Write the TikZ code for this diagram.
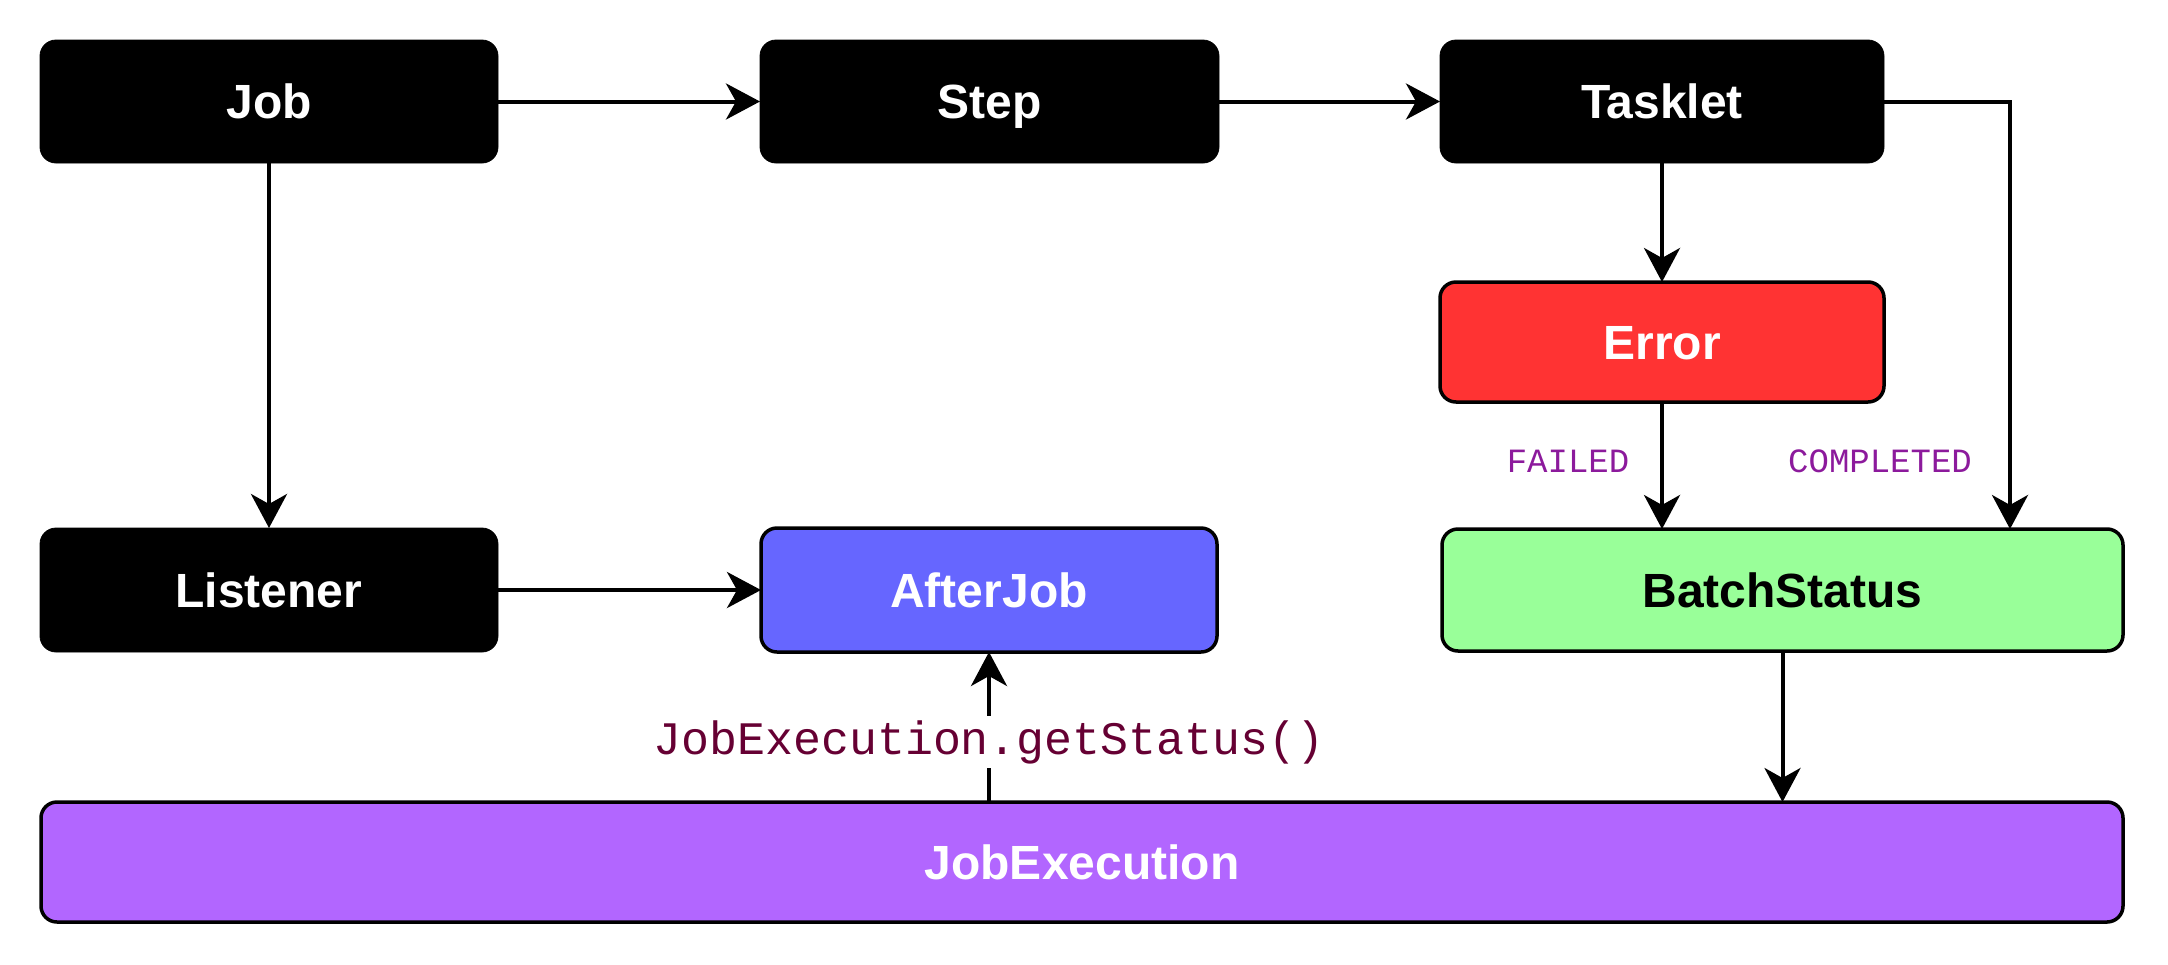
\documentclass[tikz,border=0pt]{standalone}
\usepackage{fontspec}
\setmainfont{Liberation Sans}
\setmonofont{Liberation Mono}
\usetikzlibrary{arrows.meta,calc}
\definecolor{errred}{HTML}{FF3333}
\definecolor{ajblue}{HTML}{6666FF}
\definecolor{bsgreen}{HTML}{99FF99}
\definecolor{jepurple}{HTML}{B266FF}
\definecolor{lblpurple}{HTML}{8C1A9C}
\definecolor{lblmaroon}{HTML}{660033}
\begin{document}
\begin{tikzpicture}[x=0.5pt,y=-0.5pt,
  box/.style={rounded corners=8pt, inner sep=0pt, outer sep=0pt,
    text height=17.2pt, text depth=0pt,
    font=\fontsize{24pt}{28pt}\selectfont\bfseries},
  blackbox/.style={box, fill=black, draw=black, text=white},
  colbox/.style={box, draw=black, line width=1.75pt},
  conn/.style={line width=2pt, -{Stealth[length=17pt,width=18pt,inset=5pt]}},
  statuslbl/.style={font=\fontsize{17pt}{20pt}\selectfont\ttfamily, text=lblpurple, inner sep=1pt},
  calllbl/.style={font=\fontsize{23.3pt}{27pt}\selectfont\ttfamily, text=lblmaroon, fill=white, inner sep=2pt}
]
\useasboundingbox (0,0) rectangle (2168,964);

\node[blackbox, minimum width=229pt, minimum height=61.5pt] (job) at (269,101.5) {Job};
\node[blackbox, minimum width=229.5pt, minimum height=61.5pt] (step) at (989.5,101.5) {Step};
\node[blackbox, minimum width=222pt, minimum height=61.5pt] (tasklet) at (1662,101.5) {Tasklet};
\node[colbox, fill=errred, text=white, minimum width=222pt, minimum height=60pt] (error) at (1662,342) {Error};
\node[blackbox, minimum width=229pt, minimum height=62pt] (listener) at (269,590) {Listener};
\node[colbox, fill=ajblue, text=white, minimum width=228pt, minimum height=62pt] (afterjob) at (989,590) {AfterJob};
\node[colbox, fill=bsgreen, text=black, minimum width=340.5pt, minimum height=61pt] (batch) at (1782.5,590) {BatchStatus};
\node[colbox, fill=jepurple, text=white, minimum width=1041pt, minimum height=60pt] (je) at (1082,862) {JobExecution};

\coordinate (tcorner) at (2010,101.5);

\draw[conn] (job) -- (step);
\draw[conn] (step) -- (tasklet);
\draw[conn] (job) -- (listener);
\draw[conn] (listener) -- (afterjob);
\draw[conn] (tasklet) -- (error);
\draw[conn] (error.south) -- (error.south |- batch.north);
\draw[conn] (tasklet.east) -- (tcorner) -- (tcorner |- batch.north);
\draw[conn] (batch.south) -- (batch.south |- je.north);
\draw[conn] (afterjob.south |- je.north) -- node[calllbl, pos=0.4] (calltxt) {JobExecution.getStatus()} (afterjob.south);

\node[statuslbl] (failed) at (1568,461) {FAILED};
\node[statuslbl] (completed) at (1880,461) {COMPLETED};
\end{tikzpicture}
\end{document}
